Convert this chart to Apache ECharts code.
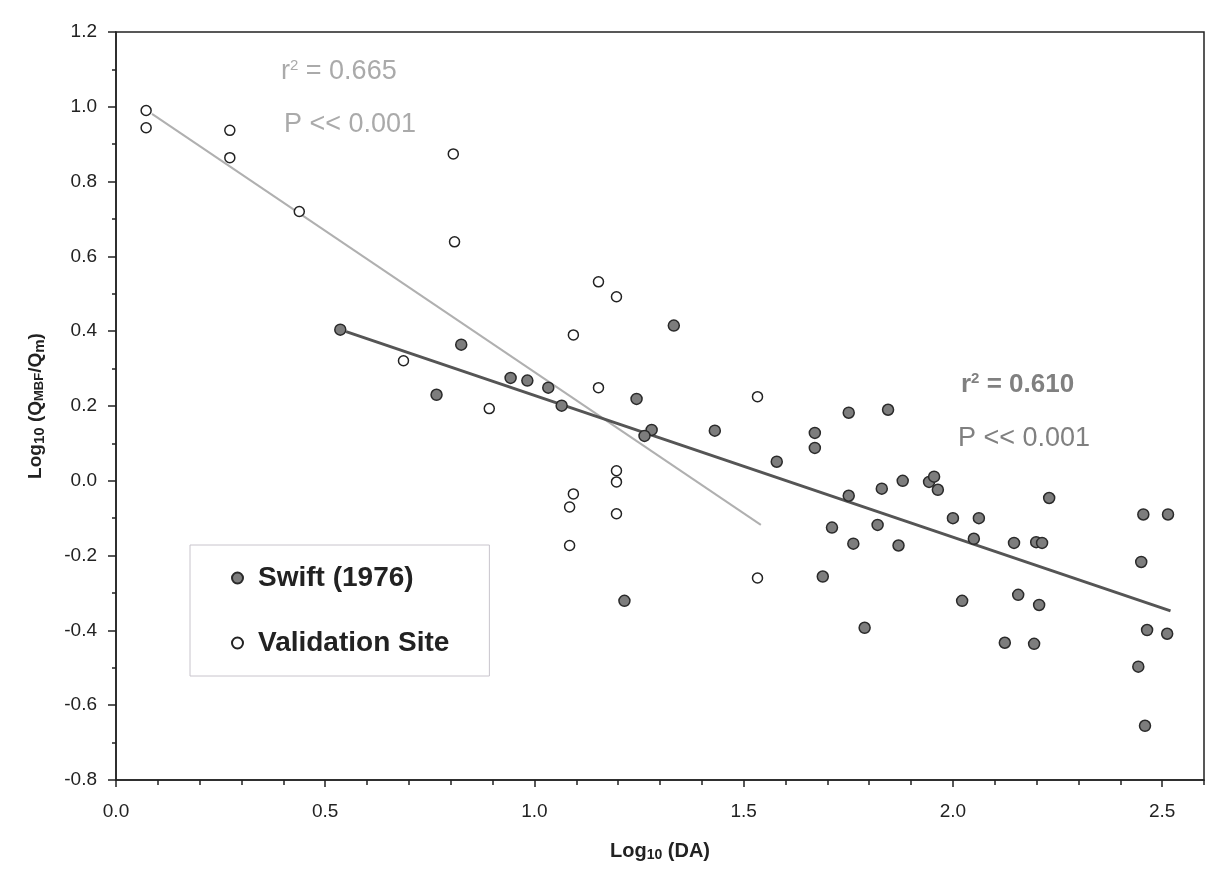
<!DOCTYPE html>
<html>
<head>
<meta charset="utf-8">
<script src="https://cdn.jsdelivr.net/npm/echarts@6/dist/echarts.min.js"></script>
<style>
  html, body { margin: 0; padding: 0; background: #fff; }
  #chart { width: 1209px; height: 873px; }
</style>
</head>
<body>
<div id="chart"></div>
<script>
// Swift (1976) sites
const swiftDA = [0.536, 0.766, 0.825, 0.943, 0.983, 1.033, 1.065, 1.244, 1.28, 1.263,
  1.333, 1.431, 1.579, 1.215, 1.751, 1.845, 1.67, 1.67, 1.751, 1.83,
  1.88, 1.943, 1.955, 1.964, 1.711, 1.82, 1.762, 1.87, 2.0, 2.062,
  2.05, 2.146, 2.199, 2.213, 2.23, 2.455, 2.514, 2.45, 1.689, 1.789,
  2.022, 2.156, 2.206, 2.124, 2.194, 2.464, 2.512, 2.443, 2.459];
const swiftQ = [0.404, 0.23, 0.364, 0.275, 0.268, 0.249, 0.201, 0.219, 0.136, 0.12,
  0.415, 0.134, 0.051, -0.321, 0.182, 0.19, 0.128, 0.088, -0.04, -0.021,
  0.0, -0.003, 0.011, -0.024, -0.125, -0.118, -0.168, -0.173, -0.1, -0.1,
  -0.155, -0.166, -0.164, -0.166, -0.046, -0.09, -0.09, -0.217, -0.256, -0.393,
  -0.321, -0.305, -0.332, -0.433, -0.436, -0.399, -0.409, -0.497, -0.655];

// validation sites
const validDA = [0.072, 0.072, 0.272, 0.272, 0.438, 0.806, 0.809, 1.153, 1.196, 0.687,
  0.892, 1.093, 1.153, 1.196, 1.196, 1.093, 1.084, 1.196, 1.084, 1.533, 1.533];
const validQ = [0.99, 0.944, 0.937, 0.864, 0.72, 0.874, 0.639, 0.532, 0.492, 0.321,
  0.193, 0.39, 0.249, 0.027, -0.003, -0.035, -0.07, -0.088, -0.173, 0.225, -0.26];

// regression lines (end points)
const swiftFitX = [0.55, 2.52];
const swiftFitY = [0.399, -0.348];
const validFitX = [0.086, 1.541];
const validFitY = [0.981, -0.118];

const font = "Liberation Sans, Arial, sans-serif";
const zip = (a, b) => a.map((v, i) => [v, b[i]]);

const chart = echarts.init(document.getElementById("chart"));
chart.setOption({
  backgroundColor: "#fff",
  animation: false,
  textStyle: { fontFamily: font },
  grid: {
    left: 116, top: 32, right: 5, bottom: 93,
    show: true, borderColor: "#222", borderWidth: 1.5
  },
  legend: {
    left: 190, top: 545,
    orient: "vertical",
    padding: [19, 40, 19, 41],
    itemGap: 37,
    itemWidth: 11, itemHeight: 11,
    borderColor: "#c8c4cc", borderWidth: 1,
    data: ["Swift (1976)", "Validation Site"],
    textStyle: { fontSize: 28, fontWeight: "bold", color: "#222", padding: [0, 0, 0, 10], fontFamily: font }
  },
  xAxis: [
    {
      type: "value", min: 0, max: 2.6, interval: 0.5,
      name: "Log{sub|10} (DA)",
      nameLocation: "middle", nameGap: 61,
      nameTextStyle: {
        fontSize: 20, fontWeight: "bold", color: "#222",
        rich: { sub: { fontSize: 14, fontWeight: "bold", color: "#222", padding: [7, 0, 0, 0] } }
      },
      axisLine: { onZero: false, lineStyle: { color: "#222", width: 1.5 } },
      axisTick: { length: 7, lineStyle: { color: "#222", width: 1.5 } },
      axisLabel: {
        margin: 22, fontSize: 19, color: "#222", showMaxLabel: false,
        formatter: v => v.toFixed(1)
      },
      splitLine: { show: false }
    },
    {
      type: "value", min: 0, max: 2.6, interval: 0.1, position: "bottom",
      axisLine: { show: false, onZero: false },
      axisTick: { length: 5, lineStyle: { color: "#222", width: 1.5 } },
      axisLabel: { show: false },
      splitLine: { show: false }
    }
  ],
  yAxis: {
    type: "value", min: -0.8, max: 1.2, interval: 0.2,
    name: "Log{sub|10} (Q{sub2|MBF}/Q{sub|m})",
    nameLocation: "middle", nameGap: 69,
    nameTextStyle: {
      fontSize: 19, fontWeight: "bold", color: "#222",
      rich: {
        sub: { fontSize: 15, fontWeight: "bold", color: "#222", padding: [7, 0, 0, 0] },
        sub2: { fontSize: 13, fontWeight: "bold", color: "#222", padding: [7, 0, 0, 0] }
      }
    },
    axisLine: { show: true, onZero: false, lineStyle: { color: "#222", width: 1.5 } },
    axisTick: { show: true, length: 8, lineStyle: { color: "#222", width: 1.5 } },
    minorTick: { show: true, splitNumber: 2, length: 4, lineStyle: { color: "#222", width: 1.5 } },
    axisLabel: { margin: 19, fontSize: 19, color: "#222", formatter: v => v.toFixed(1) },
    splitLine: { show: false }
  },
  series: [
    {
      name: "Validation fit", type: "line", silent: true, symbol: "none",
      data: zip(validFitX, validFitY),
      lineStyle: { color: "#b0b0b0", width: 2 }, z: 1
    },
    {
      name: "Swift fit", type: "line", silent: true, symbol: "none",
      data: zip(swiftFitX, swiftFitY),
      lineStyle: { color: "#555", width: 3 }, z: 1
    },
    {
      name: "Swift (1976)", type: "scatter", symbol: "circle", symbolSize: 11,
      data: zip(swiftDA, swiftQ),
      itemStyle: { color: "#7d7d7d", borderColor: "#2a2a2a", borderWidth: 1.5, opacity: 1 }, z: 3
    },
    {
      name: "Validation Site", type: "scatter", symbol: "circle", symbolSize: 10,
      data: zip(validDA, validQ),
      itemStyle: { color: "#fff", borderColor: "#222", borderWidth: 1.5, opacity: 1 }, z: 3
    }
  ],
  graphic: [
    { type: "text", left: 281, top: 58, z: 10,
      style: { text: "r{sup|2} = 0.665", fill: "#aaa", font: "27px " + font,
        rich: { sup: { fontSize: 15, fill: "#aaa", padding: [0, 0, 13, 0] } } } },
    { type: "text", left: 284, top: 111, z: 10,
      style: { text: "P << 0.001", fill: "#aaa", font: "27px " + font } },
    { type: "text", left: 961, top: 371, z: 10,
      style: { text: "r{sup|2} = 0.610", fill: "#808080", font: "bold 26px " + font,
        rich: { sup: { fontSize: 15, fontWeight: "bold", fill: "#808080", padding: [0, 0, 13, 0] } } } },
    { type: "text", left: 958, top: 425, z: 10,
      style: { text: "P << 0.001", fill: "#808080", font: "27px " + font } }
  ]
});
</script>
</body>
</html>
